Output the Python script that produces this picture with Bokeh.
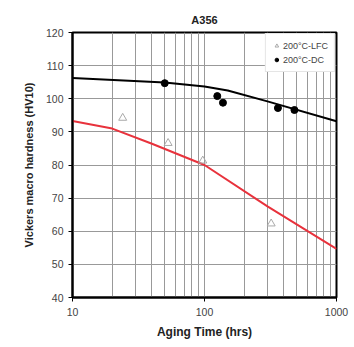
from bokeh.plotting import figure
from bokeh.models import FixedTicker, NumeralTickFormatter, Legend, LegendItem, Range1d
from bokeh.embed import file_html
from bokeh.resources import INLINE

# Data
lfc_time = [24, 53, 97, 320]
lfc_hv = [94.2, 86.6, 81.3, 62.3]
dc_time = [50, 125, 138, 360, 480]
dc_hv = [104.7, 100.8, 98.8, 97.2, 96.6]
dc_fit_time = [10, 50, 100, 150, 300, 1000]
dc_fit_hv = [106.3, 104.9, 103.7, 102.5, 99.2, 93.2]
lfc_fit_time = [10, 20, 40, 100, 300, 1000]
lfc_fit_hv = [93.3, 91.0, 86.4, 80.0, 67.5, 54.7]
x_ticks = [10, 100, 1000]
x_grid = [10, 20, 30, 40, 50, 60, 70, 80, 90, 100, 200, 300, 400, 500, 600, 700, 800, 900, 1000]
y_ticks = [40, 50, 60, 70, 80, 90, 100, 110, 120]

FONT = "Liberation Sans"

p = figure(width=354, height=347, x_axis_type="log", output_backend="svg",
           toolbar_location=None, title="A356",
           x_range=Range1d(10, 1000), y_range=Range1d(40, 120),
           min_border_left=72, min_border_right=18, min_border_top=32, min_border_bottom=50)
p.background_fill_color = "white"
p.border_fill_color = "white"
p.outline_line_color = "black"
p.outline_line_width = 2

p.title.align = "center"
p.title.text_font = FONT
p.title.text_font_size = "11px"
p.title.text_font_style = "bold"
p.title.text_color = "#222222"
p.title.offset = 60
p.title.standoff = 14

p.xgrid.ticker = FixedTicker(ticks=x_grid)
p.ygrid.ticker = FixedTicker(ticks=y_ticks)
p.xgrid.grid_line_color = "#999999"
p.ygrid.grid_line_color = "#999999"
p.xgrid.grid_line_width = 1
p.ygrid.grid_line_width = 1

p.xaxis.ticker = FixedTicker(ticks=x_ticks)
p.xaxis.formatter = NumeralTickFormatter(format="0")
p.yaxis.ticker = FixedTicker(ticks=y_ticks)
for ax in (p.xaxis, p.yaxis):
    ax.axis_line_color = "black"
    ax.axis_line_width = 2
    ax.major_tick_in = 0
    ax.major_tick_out = 4
    ax.major_tick_line_color = "black"
    ax.minor_tick_line_color = None
    ax.major_label_text_font = FONT
    ax.major_label_text_font_size = "10.5px"
    ax.major_label_text_color = "#444444"
    ax.axis_label_text_font = FONT
    ax.axis_label_text_font_style = "bold"
    ax.axis_label_text_color = "#222222"
p.xaxis.axis_label = "Aging Time (hrs)"
p.xaxis.axis_label_text_font_size = "12px"
p.xaxis.axis_label_standoff = 6
p.xaxis.major_label_standoff = 6
p.yaxis.axis_label = "Vickers macro hardness (HV10)"
p.yaxis.axis_label_text_font_size = "11px"
p.yaxis.axis_label_standoff = 8
p.yaxis.major_label_standoff = 5

p.line(dc_fit_time, dc_fit_hv, line_color="black", line_width=2)
p.line(lfc_fit_time, lfc_fit_hv, line_color="#e8323c", line_width=2)

r_lfc = p.scatter(lfc_time, lfc_hv, marker="triangle", size=8, fill_color=None,
                  line_color="#aaaaaa", line_width=1)
r_dc = p.scatter(dc_time, dc_hv, marker="circle", size=7, fill_color="black",
                 line_color="black")

legend = Legend(items=[LegendItem(label="200\u00b0C-LFC", renderers=[r_lfc]),
                       LegendItem(label="200\u00b0C-DC", renderers=[r_dc])],
                location="top_right")
legend.label_text_font = FONT
legend.label_text_font_size = "9px"
legend.label_text_color = "#444444"
legend.glyph_width = 9
legend.glyph_height = 11
legend.label_standoff = 2
legend.spacing = 3
legend.padding = 6
legend.margin = 1
legend.border_line_color = "#cccccc"
legend.background_fill_alpha = 1
legend.label_height = 11
p.add_layout(legend, "center")

open("out.html", "w").write(file_html(p, INLINE))
